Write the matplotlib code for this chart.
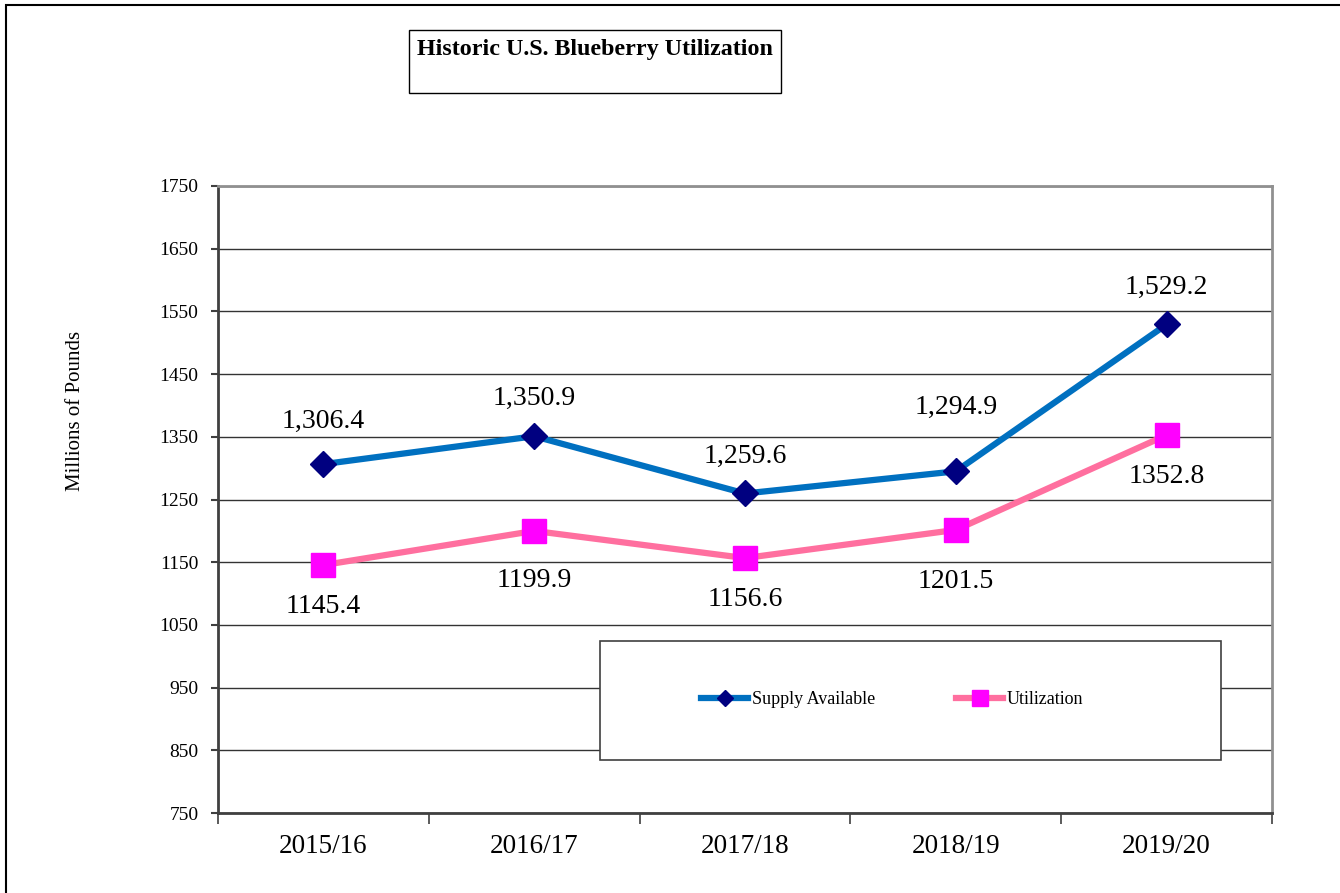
import matplotlib
matplotlib.use("Agg")
import matplotlib.pyplot as plt
from matplotlib.patches import Rectangle

plt.rcParams["font.family"] = ["Liberation Serif", "DejaVu Serif"]

seasons = ["2015/16", "2016/17", "2017/18", "2018/19", "2019/20"]
supply = [1306.4, 1350.9, 1259.6, 1294.9, 1529.2]
utilization = [1145.4, 1199.9, 1156.6, 1201.5, 1352.8]
yticks = [750, 850, 950, 1050, 1150, 1250, 1350, 1450, 1550, 1650, 1750]

# label offsets in points (Excel nudges some labels)
supply_off = [31, 27, 27, 46, 27]
util_off = [30, 36, 30, 37, 30]

W, H = 1340, 893
fig = plt.figure(figsize=(W / 100, H / 100), dpi=100)


def px(x, y):
    # pixel (from top-left) -> figure fraction
    return x / W, 1 - y / H


# outer frame of the chart object
fig.patches.append(Rectangle(px(6, 900), 1345 / W, 895 / H, transform=fig.transFigure,
                             fill=False, ec="black", lw=1.5))

ax = fig.add_axes([218 / W, 80 / H, 1054 / W, 627 / H])
x = list(range(len(seasons)))

ax.plot(x, supply, color="#0070C0", lw=4.5, marker="D", ms=13,
        mfc="#000080", mec="#000080", label="Supply Available", zorder=3)
ax.plot(x, utilization, color="#FF6F9F", lw=4.5, marker="s", ms=17,
        mfc="#FF00FF", mec="#FF00FF", label="Utilization", zorder=3)

for i, v in enumerate(supply):
    ax.annotate(f"{v:,.1f}", (i, v), xytext=(0, supply_off[i]), textcoords="offset points",
                ha="center", va="center", fontsize=20)
for i, v in enumerate(utilization):
    ax.annotate(f"{v:.1f}", (i, v), xytext=(0, -util_off[i]), textcoords="offset points",
                ha="center", va="center", fontsize=20)

ax.set_xlim(-0.5, len(seasons) - 0.5)
ax.set_ylim(750, 1750)
ax.set_yticks(yticks)
ax.set_yticklabels([str(t) for t in yticks], fontsize=14)
ax.tick_params(axis="y", length=5, width=1.5, color="#404040", pad=9)

ax.set_xticks([i - 0.5 for i in range(len(seasons) + 1)])
ax.set_xticklabels([])
ax.tick_params(axis="x", which="major", length=8, width=1.2, color="#404040")
ax.set_xticks(x, minor=True)
ax.set_xticklabels(seasons, minor=True, fontsize=19.5)
ax.tick_params(axis="x", which="minor", length=0, pad=15)

ax.grid(axis="y", color="#333333", lw=1)
ax.set_axisbelow(True)
for side in ("left", "bottom"):
    ax.spines[side].set_color("#404040")
    ax.spines[side].set_linewidth(2)
for side in ("top", "right"):
    ax.spines[side].set_color("#909090")
    ax.spines[side].set_linewidth(2)

fig.text(*px(75, 411), "Millions of Pounds", rotation=90, ha="center", va="center",
         fontsize=15)

# title box
fig.patches.append(Rectangle(px(409, 93), 372 / W, 63 / H, transform=fig.transFigure,
                             fill=False, ec="black", lw=1))
fig.text(*px(595, 49), "Historic U.S. Blueberry Utilization", ha="center", va="center",
         fontsize=17.3, fontweight="bold")

# legend box
fig.patches.append(Rectangle(px(600, 760), 621 / W, 119 / H, transform=fig.transFigure,
                             fc="white", ec="#404040", lw=1.2, zorder=5))
leg = fig.legend(loc="center left", bbox_to_anchor=px(692, 700), ncol=2, frameon=False,
                 fontsize=13, borderpad=0, handlelength=2.6, handletextpad=0.2,
                 columnspacing=4.5, markerscale=0.65)
leg.set_zorder(6)

fig.savefig("out.png", dpi=100)
